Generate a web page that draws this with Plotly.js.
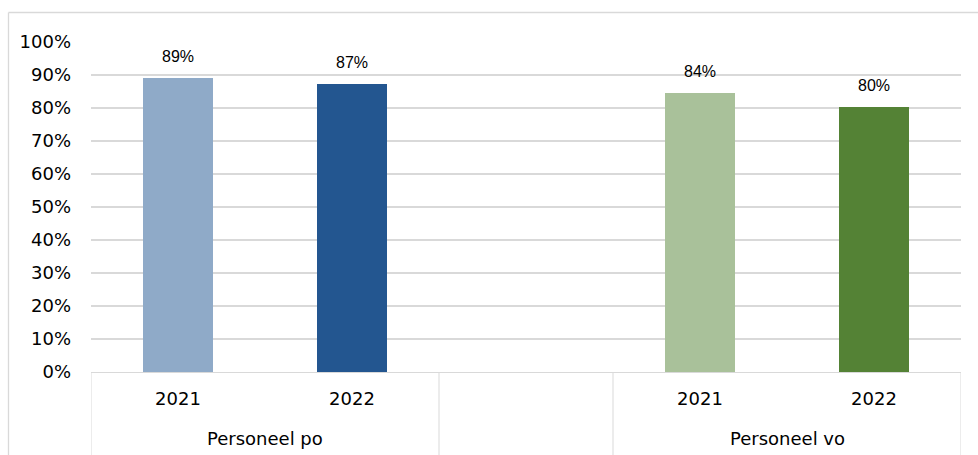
<!DOCTYPE html>
<html>
<head>
<meta charset="utf-8">
<script src="https://cdn.plot.ly/plotly-3.0.1.min.js"></script>
<style>html,body{margin:0;padding:0;background:#fff;}#chart{width:978px;height:455px;}</style>
</head>
<body>
<div id="chart"></div>
<script>
// ---- data ----
const groups = ['Personeel po', 'Personeel vo'];
const years = ['2021', '2022'];
const valuesPo = [89.1, 87.4];
const valuesVo = [84.4, 80.4];
const yTicks = [0, 10, 20, 30, 40, 50, 60, 70, 80, 90, 100];
const yTickText = yTicks.map(v => v + '%');

// ---- styling ----
const colors = {
  po: ['#8FAAC8', '#235690'],
  vo: ['#A9C19A', '#548235']
};
const W = 978, H = 455;
const M = {l: 91, r: 17, t: 42, b: 83};
const PW = W - M.l - M.r, PH = H - M.t - M.b;
const px2paperX = p => (p - M.l) / PW;
const px2paperY = p => (H - M.b - p) / PH;
const grid = '#d9d9d9';
const axisFont = {family: 'DejaVu Sans', size: 18, color: '#000'};

// slots: group po -> 0,1 ; empty slot 2 ; group vo -> 3,4
const seriesVals = [valuesPo, valuesVo];
const seriesCols = [colors.po, colors.vo];
const xs = [], ys = [], cols = [], tickvals = [], ticktext = [];
groups.forEach((g, gi) => {
  years.forEach((yr, yi) => {
    const x = gi * (years.length + 1) + yi;
    xs.push(x); ys.push(seriesVals[gi][yi]); cols.push(seriesCols[gi][yi]);
    tickvals.push(x); ticktext.push(yr);
  });
});

const traces = [{
  type: 'bar', x: xs, y: ys, width: 0.4,
  marker: {color: cols, line: {width: 0}},
  hoverinfo: 'skip', showlegend: false
}];

const annotations = xs.map((x, i) => ({
  x: x, y: ys[i], xref: 'x', yref: 'y', yanchor: 'bottom', yshift: 11,
  text: Math.round(ys[i]) + '%', showarrow: false,
  font: {family: 'Liberation Sans', size: 16, color: '#000'}
}));
groups.forEach((g, gi) => {
  const first = gi * (years.length + 1), last = first + years.length - 1;
  annotations.push({
    x: (first + last) / 2, xref: 'x', y: px2paperY(438), yref: 'paper',
    yanchor: 'middle', text: g, showarrow: false, font: axisFont
  });
});

const shapes = [];
const lineStyle = {color: grid, width: 1};
const xMin = -0.5, xMax = xs[xs.length - 1] + 0.5;
const bounds = [xMin, years.length - 0.5, years.length + 0.5, xMax];
bounds.forEach(b => shapes.push({
  type: 'line', xref: 'x', yref: 'paper', x0: b, x1: b, y0: 0, y1: px2paperY(470), line: lineStyle
}));
// outer chart frame (top & left visible)
shapes.push({type: 'line', xref: 'paper', yref: 'paper', x0: px2paperX(8.5), x1: px2paperX(990), y0: px2paperY(12.5), y1: px2paperY(12.5), line: {color: grid, width: 1.3}});
shapes.push({type: 'line', xref: 'paper', yref: 'paper', x0: px2paperX(8.5), x1: px2paperX(8.5), y0: px2paperY(12.5), y1: px2paperY(470), line: {color: grid, width: 1.3}});

const layout = {
  width: W, height: H,
  margin: M,
  paper_bgcolor: '#fff', plot_bgcolor: '#fff',
  bargap: 0,
  xaxis: {
    range: [xMin, xMax], tickvals: tickvals, ticktext: ticktext,
    showgrid: false, zeroline: false, showline: true, linecolor: grid, linewidth: 1.3,
    ticks: '', tickfont: axisFont, ticklabelstandoff: 10, fixedrange: true
  },
  yaxis: {
    range: [0, 100], tickvals: yTicks, ticktext: yTickText,
    showgrid: true, gridcolor: grid, gridwidth: 1.3, zeroline: false, showline: false,
    ticks: '', tickfont: axisFont, ticklabelstandoff: 19, fixedrange: true
  },
  annotations: annotations,
  shapes: shapes,
  showlegend: false
};

Plotly.newPlot('chart', traces, layout, {displayModeBar: false, staticPlot: true});
</script>
</body>
</html>
